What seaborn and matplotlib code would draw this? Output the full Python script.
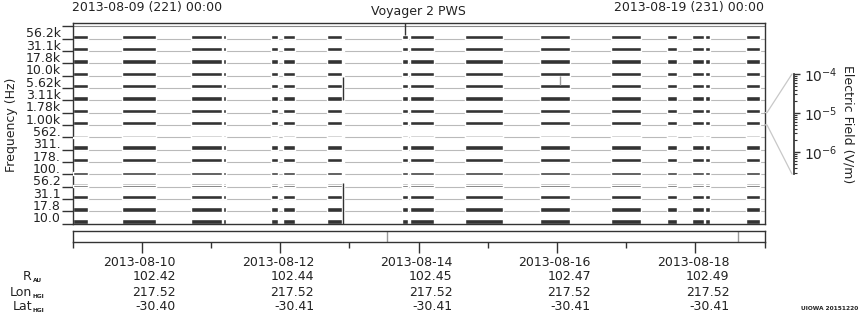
import numpy as np
import matplotlib
matplotlib.use('Agg')
import matplotlib.pyplot as plt
import seaborn as sns
from matplotlib.lines import Line2D
from matplotlib.transforms import blended_transform_factory

sns.set_theme(style='white')
plt.rcParams['font.family'] = ['DejaVu Sans']
plt.rcParams['text.color'] = '#222222'
plt.rcParams['axes.edgecolor'] = '#333333'

# ---- data -------------------------------------------------------------
freq_labels = ['10.0', '17.8', '31.1', '56.2', '100.', '178.', '311.', '562.',
               '1.00k', '1.78k', '3.11k', '5.62k', '10.0k', '17.8k', '31.1k', '56.2k']
seg_start = [0.000, 0.715, 1.712, 2.175, 2.868, 3.042, 3.678, 3.910, 4.760,
             4.877, 5.672, 6.756, 7.782, 8.591, 8.952, 9.139, 9.733]
seg_end = [0.224, 1.207, 2.160, 2.218, 2.969, 3.215, 3.895, 3.930, 4.848,
           5.224, 6.221, 7.190, 8.215, 8.736, 9.125, 9.212, 9.935]
faint_channels = ['562.']
mixed_channels = ['56.2', '100.']
spike_day = [3.909, 3.909, 4.805, 7.045]
spike_lo = [0.0, 10.0, 15.3, 11.2]
spike_hi = [3.25, 11.9, 16.27, 11.95]
spike_color = ['#333333', '#333333', '#333333', '#999999']
box_marks = [4.545, 9.617]
date_days = [1, 3, 5, 7, 9]
date_labels = ['2013-08-10', '2013-08-12', '2013-08-14', '2013-08-16', '2013-08-18']
r_au = ['102.42', '102.44', '102.45', '102.47', '102.49']
lon_hgi = ['217.52', '217.52', '217.52', '217.52', '217.52']
lat_hgi = ['-30.40', '-30.41', '-30.41', '-30.41', '-30.41']
efield_ticks = [1e-4, 1e-5, 1e-6]
efield_labels = [r'$10^{-4}$', r'$10^{-5}$', r'$10^{-6}$']

W, H = 860, 320
fig = plt.figure(figsize=(W / 100, H / 100), dpi=100)
fig.patch.set_facecolor('white')


def fx(px):
    return px / W


def fy(py):
    return 1 - py / H


# ---- main panel -------------------------------------------------------
ax = fig.add_axes([fx(72.5), fy(223.5), fx(692), 200.5 / H])
ax.set_xlim(0, 10)
ax.set_ylim(0, 16.27)
for k in range(1, 16):
    ax.axhline(k, color='#bababa', lw=0.8, zorder=1)
ax.axhline(16, color='#888888', lw=0.8, zorder=1)

segs = [(s, e - s) for s, e in zip(seg_start, seg_end)]
for k, lab in enumerate(freq_labels):
    if lab in faint_channels:
        ax.broken_barh(segs, (k, 0.2), facecolors='#b0b0b0', zorder=2)
        ax.broken_barh(segs, (k - 0.03, 0.08), facecolors='#6a6a6a', zorder=3)
    elif lab in mixed_channels:
        ax.broken_barh(segs, (k, 0.30), facecolors='#b0b0b0', zorder=2)
        ax.broken_barh(segs, (k - 0.03, 0.17), facecolors='#404040', zorder=3)
    else:
        ax.broken_barh(segs, (k - 0.03, 0.36), facecolors='#333333', zorder=2)

ax.vlines(spike_day, spike_lo, spike_hi, colors=spike_color, lw=1.0, zorder=4)

ax.set_yticks(np.arange(16) + 0.5)
ax.set_yticklabels(freq_labels)
ax.set_yticks(np.arange(17), minor=True)
ax.tick_params(axis='y', which='major', length=0, pad=8.5, labelsize=9,
               labelcolor='#222222')
ax.tick_params(axis='y', which='minor', length=8, width=1, color='#333333',
               direction='out', left=True)
ax.set_xticks([])
for sp in ax.spines.values():
    sp.set_linewidth(1.0)
    sp.set_color('#333333')

# ---- bottom time box --------------------------------------------------
axb = fig.add_axes([fx(72.5), fy(242), fx(692), 11 / H])
axb.set_xlim(0, 10)
axb.set_ylim(0, 1)
axb.set_yticks([])
axb.vlines(box_marks, 0, 1, colors='#999999', lw=1.0)
axb.set_xticks(date_days)
axb.set_xticklabels([])
axb.set_xticks([0, 2, 4, 6, 8, 10], minor=True)
axb.tick_params(axis='x', which='major', length=8, width=1, color='#333333',
                direction='out', bottom=True)
axb.tick_params(axis='x', which='minor', length=4.5, width=1, color='#333333',
                direction='out', bottom=True)
for sp in axb.spines.values():
    sp.set_linewidth(1.0)
    sp.set_color('#333333')

tr = blended_transform_factory(axb.transData, fig.transFigure)
off = 34 / 69.2
rows = [(date_labels, 262), (r_au, 277), (lon_hgi, 292), (lat_hgi, 306)]
for vals, py in rows:
    for d, v in zip(date_days, vals):
        axb.text(d + off, fy(py), v, transform=tr, ha='right', va='center',
                 fontsize=9, color='#222222')

for main, sub, py in [('R', 'AU', 277), ('Lon', 'HGI', 292), ('Lat', 'HGI', 306)]:
    fig.text(fx(32), fy(py), main, ha='right', va='center', fontsize=9)
    fig.text(fx(32.5), fy(py + 4), sub, ha='left', va='center', fontsize=4.2,
             weight='bold')

# ---- titles -----------------------------------------------------------
fig.text(fx(72), fy(8), '2013-08-09 (221) 00:00', ha='left', va='center', fontsize=9)
fig.text(fx(418), fy(11), 'Voyager 2 PWS', ha='center', va='center', fontsize=9)
fig.text(fx(764), fy(8), '2013-08-19 (231) 00:00', ha='right', va='center', fontsize=9)
fig.text(fx(12), fy(125), 'Frequency (Hz)', rotation=90, ha='center', va='center',
         fontsize=9)
fig.text(fx(858), fy(308), 'UIOWA 20151220', ha='right', va='center', fontsize=4.2,
         weight='bold')

# ---- electric field scale ---------------------------------------------
axs = fig.add_axes([fx(792), fy(174), fx(2), 100 / H])
axs.patch.set_alpha(0)
axs.set_yscale('log')
axs.set_ylim(10 ** -6.56, 1e-4)
axs.yaxis.tick_right()
axs.set_yticks(efield_ticks)
axs.set_yticklabels(efield_labels)
axs.set_xticks([])
for name, sp in axs.spines.items():
    sp.set_visible(name == 'right')
axs.spines['right'].set_color('#333333')
axs.tick_params(axis='y', which='major', length=4, width=1, direction='out',
                right=True, left=False, pad=3, labelsize=10, color='#333333')
axs.tick_params(axis='y', which='minor', length=2, width=0.8, direction='out',
                right=True, left=False, color='#333333')
fig.text(fx(848), fy(124), 'Electric Field (V/m)', rotation=-90, ha='center',
         va='center', fontsize=9)

inv = fig.transFigure.inverted()
p_top = inv.transform(ax.transData.transform((10, 9)))
p_bot = inv.transform(ax.transData.transform((10, 8)))
fig.add_artist(Line2D([p_top[0], fx(767), fx(792)], [p_top[1], p_top[1], fy(74)],
                      color='#c8c8c8', lw=0.9))
fig.add_artist(Line2D([p_bot[0], fx(767), fx(792)], [p_bot[1], p_bot[1], fy(174)],
                      color='#c8c8c8', lw=0.9))

fig.savefig('out.png', dpi=100)
